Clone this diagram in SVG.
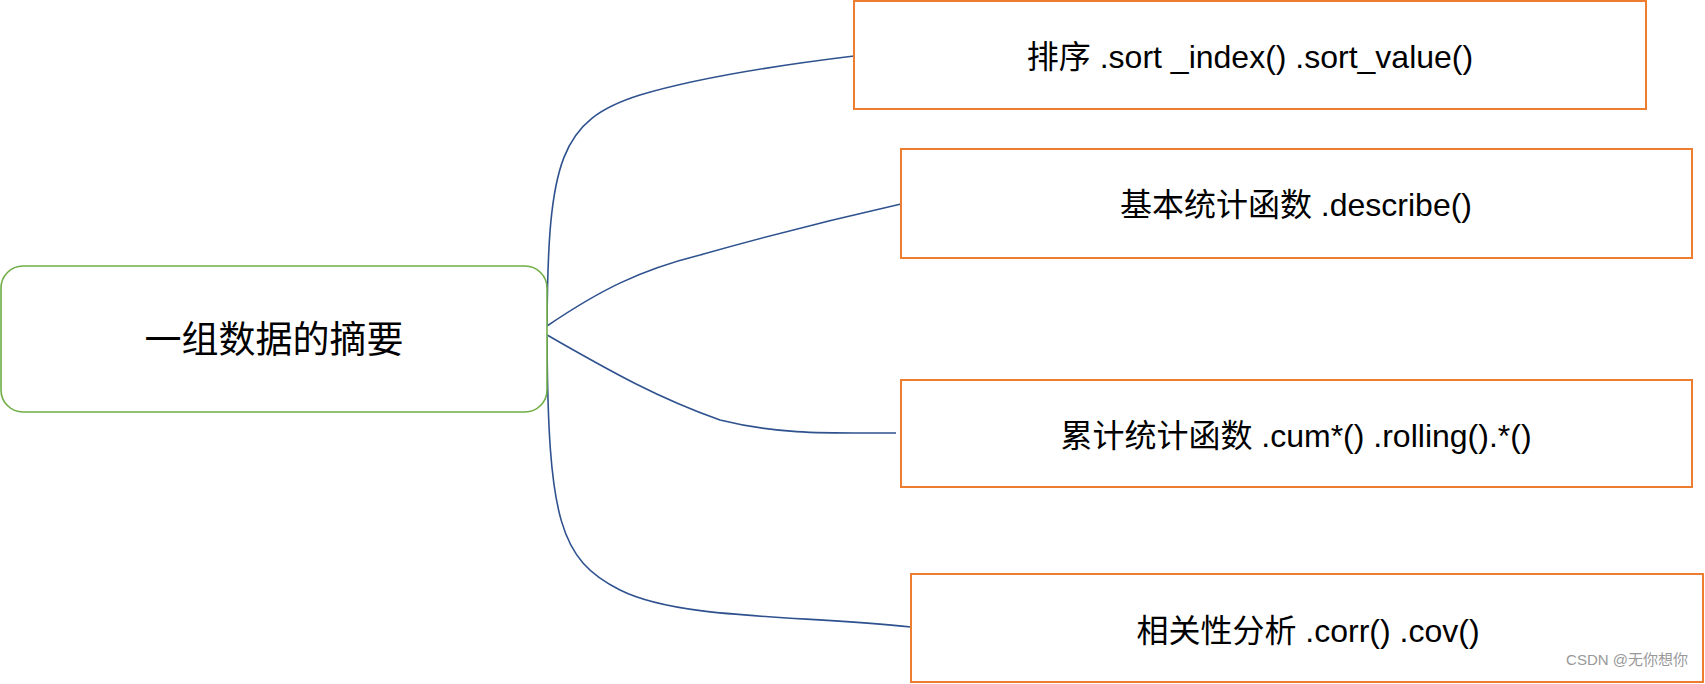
<svg xmlns="http://www.w3.org/2000/svg" width="1705" height="684" viewBox="0 0 1705 684">
<style>
.b{fill:#fff;stroke:#ED7D31;stroke-width:2}
.t{font-family:"Liberation Sans","Noto Sans CJK SC",sans-serif;font-size:32px;fill:#000;text-anchor:middle;dominant-baseline:central}
.c{fill:none;stroke:#2F528F;stroke-width:1.6}
</style>
<rect width="1705" height="684" fill="#fff"/>
<g id="connectors">
<path class="c" d="M547,326 C548,160 560,120 640,95 C700,77 780,65 854,56"/>
<path class="c" d="M547,326 C600,290 640,270 700,255 C760,238 830,220 901,204"/>
<path class="c" d="M547,335 C600,365 650,395 720,420 C780,435 830,433 896,433"/>
<path class="c" d="M547,337 C548,520 560,560 620,590 C680,620 800,615 911,627"/>
</g>
<g id="root"><rect x="1" y="266" width="546" height="146" rx="22" fill="#fff" stroke="#70AD47" stroke-width="1.6"/><text class="t" x="274" y="340" style="font-size:37px">一组数据的摘要</text></g>
<g id="n1"><rect class="b" x="854" y="1" width="792" height="108"/><text class="t" x="1250" y="57">排序 .sort _index()  .sort_value()</text></g>
<g id="n2"><rect class="b" x="901" y="149" width="791" height="109"/><text class="t" x="1296" y="205">基本统计函数 .describe()</text></g>
<g id="n3"><rect class="b" x="901" y="380" width="791" height="107"/><text class="t" x="1296" y="436">累计统计函数 .cum*() .rolling().*()</text></g>
<g id="n4"><rect class="b" x="911" y="574" width="792" height="108"/><text class="t" x="1308" y="631">相关性分析 .corr() .cov()</text></g>
<text x="1688" y="665" style="font-family:'Liberation Sans','Noto Sans CJK SC',sans-serif;font-size:15px;fill:#999;text-anchor:end">CSDN @无你想你</text>
</svg>
